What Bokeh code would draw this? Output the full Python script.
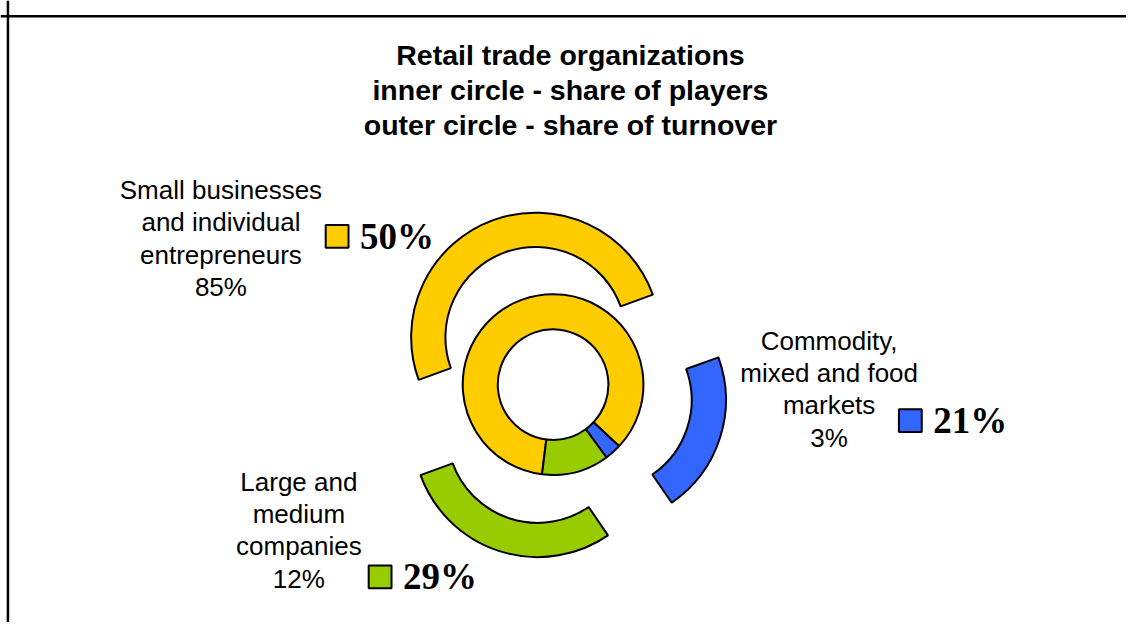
import numpy as np
from bokeh.plotting import figure
from bokeh.models import Range1d, ColumnDataSource, Span
from bokeh.core.properties import value
from bokeh.embed import file_html
from bokeh.resources import INLINE

# ---------------- data ----------------
categories = ["Small businesses and individual entrepreneurs",
              "Commodity, mixed and food markets",
              "Large and medium companies"]
label_lines = [["Small businesses", "and individual", "entrepreneurs"],
               ["Commodity,", "mixed and food", "markets"],
               ["Large and", "medium", "companies"]]
players_share = [85, 3, 12]      # inner circle
turnover_share = [50, 21, 29]    # outer circle
colors = ["#FFCC00", "#3366FF", "#99CC00"]
title_lines = ["Retail trade organizations",
               "inner circle - share of players",
               "outer circle - share of turnover"]

# ---------------- layout / style ----------------
W, H = 1126, 622
RW, RH = 1134, 630              # reference-pixel coordinate space
CX, CY = 556.5, 241.0          # ring centre (y up)
INNER_START, OUTER_START = 187.0, 250.0   # clockwise from 12 o'clock, degrees
R_HOLE, R_MID, R_OUT = 55.7, 91.0, 125.5
EXPLODE = 51.0
LINE_H = 32.7
BASE_FIX = 0.33                # baseline correction, in em
label_anchor = [(222, 429.3), (834.5, 276.7), (300.5, 134.0)]   # first-line baseline
key_anchor = [(339, 391), (916.3, 204.5), (382.3, 46.2)]
FONT = "Liberation Sans"
SERIF = "Liberation Serif"
TITLE_FS, LABEL_FS, PCT_FS = 28.5, 26, 37

p = figure(width=W, height=H, x_range=Range1d(0, RW), y_range=Range1d(0, RH),
           output_backend="svg", toolbar_location=None, min_border=0,
           background_fill_color="white", border_fill_color="white")
p.axis.visible = False
p.grid.visible = False
p.outline_line_color = None


def ring(shares, start, r_in, r_out, explode):
    xs, ys, sa, ea, cols = [], [], [], [], []
    acc = 0.0
    for s, c in zip(shares, colors):
        t1 = start + 3.6 * acc
        t2 = t1 + 3.6 * s
        tm = np.radians((t1 + t2) / 2)
        xs.append(CX + explode * np.sin(tm))
        ys.append(CY + explode * np.cos(tm))
        sa.append(np.radians(90 - t2))
        ea.append(np.radians(90 - t1))
        cols.append(c)
        acc += s
    src = ColumnDataSource(dict(x=xs, y=ys, sa=sa, ea=ea, color=cols))
    p.annular_wedge(x="x", y="y", inner_radius=r_in, outer_radius=r_out,
                    start_angle="sa", end_angle="ea", fill_color="color",
                    line_color="black", line_width=2, source=src)


ring(players_share, INNER_START, R_HOLE, R_MID, 0.0)
ring(turnover_share, OUTER_START, R_MID, R_OUT, EXPLODE)

# title
tfix = BASE_FIX * TITLE_FS
tsrc = ColumnDataSource(dict(x=[574] * 3, y=[565 + tfix - i * 35.5 for i in range(3)], text=title_lines))
p.text(x="x", y="y", text="text", source=tsrc, text_font=value(FONT),
       text_font_style="bold", text_font_size=f"{TITLE_FS}px", text_align="center",
       text_baseline="alphabetic", text_color="black")

# category labels (inner share)
lfix = BASE_FIX * LABEL_FS
lx, ly, lt = [], [], []
for (ax, ay), lines, sh in zip(label_anchor, label_lines, players_share):
    for i, ln in enumerate(lines + [f"{sh}%"]):
        lx.append(ax)
        ly.append(ay + lfix - i * LINE_H)
        lt.append(ln)
p.text(x=lx, y=ly, text=lt, text_font=value(FONT), text_font_size=f"{LABEL_FS}px",
       text_align="center", text_baseline="alphabetic", text_color="black")

# key squares + outer share
pfix = BASE_FIX * PCT_FS
kx = [k[0] for k in key_anchor]
ky = [k[1] for k in key_anchor]
p.rect(x=kx, y=ky, width=23, height=23, fill_color=colors, line_color="black", line_width=2)
p.text(x=[k + 23 for k in kx], y=[k - 12 + pfix for k in ky], text=[f"{t}%" for t in turnover_share],
       text_font=value(SERIF), text_font_style="bold", text_font_size=f"{PCT_FS}px",
       text_align="left", text_baseline="alphabetic", text_color="black")

# chart-area frame (top and left edges visible)
p.add_layout(Span(location=RH - 16, dimension="width", line_color="black", line_width=2.5))
p.add_layout(Span(location=7.5, dimension="height", line_color="black", line_width=2.5))

open("out.html", "w").write(file_html(p, INLINE))
